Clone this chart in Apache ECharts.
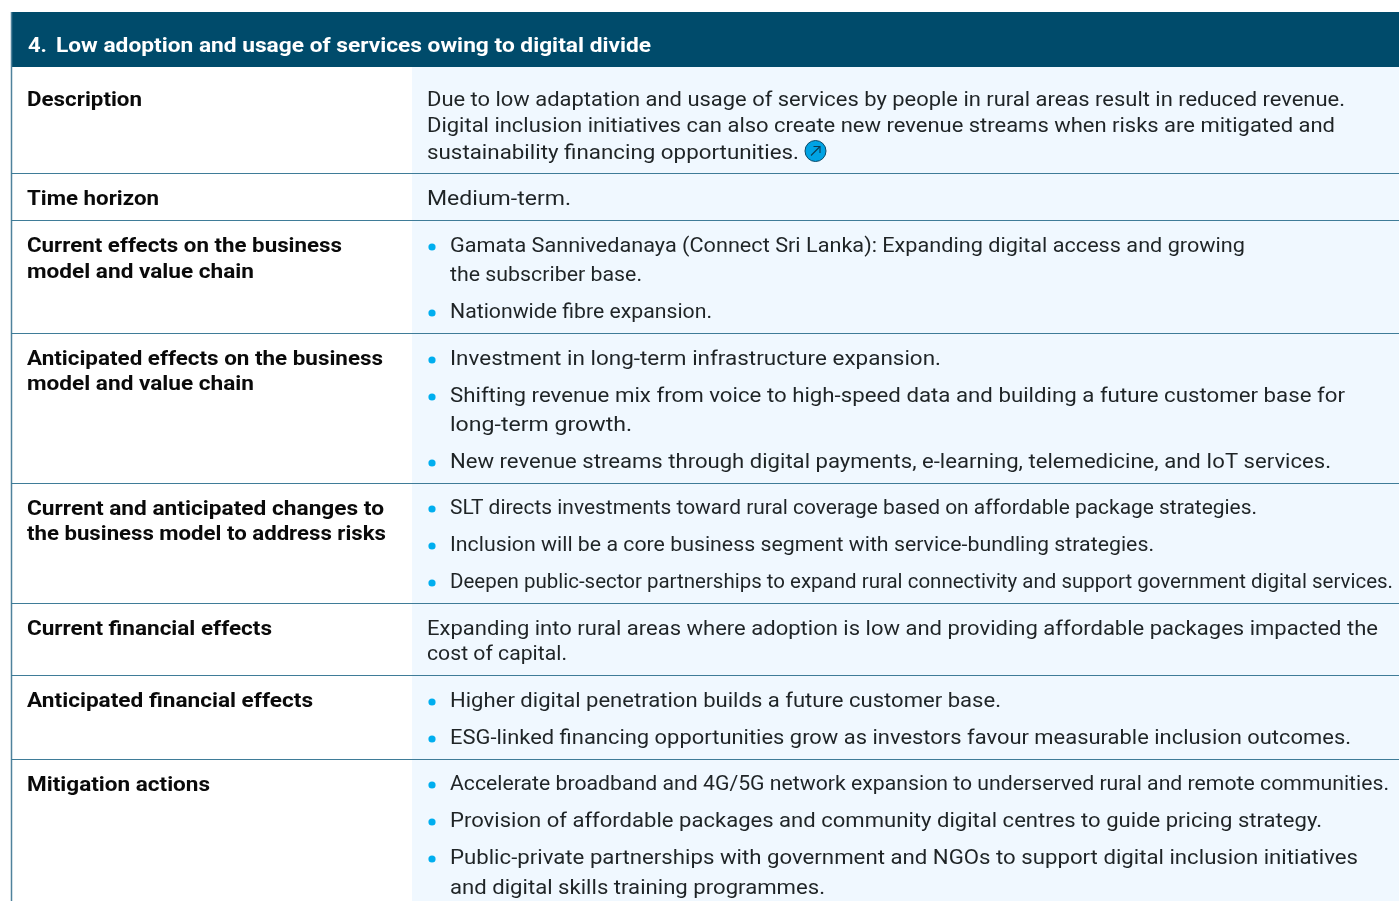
<!DOCTYPE html>
<html><head><meta charset="utf-8">
<style>html,body{margin:0;padding:0;background:#fff}#c{width:1399px;height:901px}</style>
<script src="https://cdn.jsdelivr.net/npm/echarts@6/dist/echarts.min.js"></script></head>
<body><div id="c"></div>
<script>
const titleNumber = "4.";
const titleText = "Low adoption and usage of services owing to digital divide";
const rowLabels = [
  ["Description"],
  ["Time horizon"],
  ["Current effects on the business","model and value chain"],
  ["Anticipated effects on the business","model and value chain"],
  ["Current and anticipated changes to","the business model to address risks"],
  ["Current financial effects"],
  ["Anticipated financial effects"],
  ["Mitigation actions"]
];
// each row's text lines; "* " marks a line that starts a bullet, "  " a continuation
const rowLines = [
  ["Due to low adaptation and usage of services by people in rural areas result in reduced revenue.",
   "Digital inclusion initiatives can also create new revenue streams when risks are mitigated and",
   "sustainability financing opportunities."],
  ["Medium-term."],
  ["* Gamata Sannivedanaya (Connect Sri Lanka): Expanding digital access and growing",
   "  the subscriber base.",
   "* Nationwide fibre expansion."],
  ["* Investment in long-term infrastructure expansion.",
   "* Shifting revenue mix from voice to high-speed data and building a future customer base for",
   "  long-term growth.",
   "* New revenue streams through digital payments, e-learning, telemedicine, and IoT services."],
  ["* SLT directs investments toward rural coverage based on affordable package strategies.",
   "* Inclusion will be a core business segment with service-bundling strategies.",
   "* Deepen public-sector partnerships to expand rural connectivity and support government digital services."],
  ["Expanding into rural areas where adoption is low and providing affordable packages impacted the",
   "cost of capital."],
  ["* Higher digital penetration builds a future customer base.",
   "* ESG-linked financing opportunities grow as investors favour measurable inclusion outcomes."],
  ["* Accelerate broadband and 4G/5G network expansion to underserved rural and remote communities.",
   "* Provision of affordable packages and community digital centres to guide pricing strategy.",
   "* Public-private partnerships with government and NGOs to support digital inclusion initiatives",
   "  and digital skills training programmes."]
];

// layout (separate from content)
const W = 1399, H = 901;
const rowBottoms = [173,220,333,483,603,675,759];
const labelYs = [[99],[198],[245,271],[358,383],[508,533],[628],[700],[784]];
const labelEnds = [[142],[159],[342,254],[383,254],[384,386],[272],[313],[210]];
const lineYs = [[99,125,152],[198],[245,274,311],[358,395,424,461],[507,544,581],[628,653],[700,737],[783,820,857,887]];
const lineEnds = [[1345,1335,799],[571],[1245,642,712],[941,1345,632,1331],[1257,1154,1393],[1378,567],[1001,1351],[1389,1322,1358,825]];
const TEXT_DY = 2;
const FONT = 'Roboto, sans-serif';
const ctx = document.createElement('canvas').getContext('2d');
function textEl(str, x, y, endX, size, weight, color, z){
  const font = weight + ' ' + size + 'px ' + FONT;
  ctx.font = font;
  const w = ctx.measureText(str).width;
  return {type:'text', x:x, y:y+TEXT_DY, scaleX:(endX-x)/w, z:z||5, silent:true,
    style:{text:str, x:0, y:0, font:font, fill:color, textVerticalAlign:'middle', textAlign:'left'}};
}
const els = [];
// panels and rules
els.push({type:'rect', z:1, shape:{x:412,y:67,width:W-412,height:H-67}, style:{fill:'#f0f8ff'}});
els.push({type:'rect', z:2, shape:{x:11,y:12,width:W-11,height:55}, style:{fill:'#004b6b'}});
els.push({type:'line', z:3, shape:{x1:11.5,y1:12,x2:11.5,y2:H}, style:{stroke:'#4f829c',lineWidth:1.5}});
rowBottoms.forEach(y=>els.push({type:'line', z:3, shape:{x1:11,y1:y+0.5,x2:W,y2:y+0.5}, style:{stroke:'#3f7c98',lineWidth:1}}));
// title
els.push(textEl(titleNumber,28,45,47,21,'700','#ffffff'));
els.push(textEl(titleText,56,45,651,21,'700','#ffffff'));
// labels
rowLabels.forEach((ls,i)=>ls.forEach((s,j)=>els.push(textEl(s,27,labelYs[i][j],labelEnds[i][j],20.5,'700','#0a0a0a'))));
// contents
rowLines.forEach((ls,i)=>ls.forEach((s,j)=>{
  const bullet = s.startsWith('* '), cont = s.startsWith('  ');
  const str = (bullet||cont) ? s.slice(2) : s;
  const x = (bullet||cont) ? 450 : 427;
  els.push(textEl(str,x,lineYs[i][j],lineEnds[i][j],21,'400','#1f2426'));
  if(bullet) els.push({type:'circle',z:5,shape:{cx:432,cy:lineYs[i][j]+2,r:3.6},style:{fill:'#00aeef'}});
}));
// link icon
els.push({type:'circle',z:5,shape:{cx:815.5,cy:151,r:10.5},style:{fill:'#00a3e4',stroke:'#0b4a68',lineWidth:1}});
els.push({type:'polyline',z:6,shape:{points:[[811,155.5],[820,146.5]]},style:{stroke:'#0b3a52',lineWidth:1.1,fill:null}});
els.push({type:'polyline',z:6,shape:{points:[[813.5,146.5],[820,146.5],[820,153]]},style:{stroke:'#0b3a52',lineWidth:1.1,fill:null}});
const chart = echarts.init(document.getElementById('c'),null,{renderer:'canvas'});
chart.setOption({animation:false, backgroundColor:'#ffffff', graphic:{elements:els}});
</script></body></html>
